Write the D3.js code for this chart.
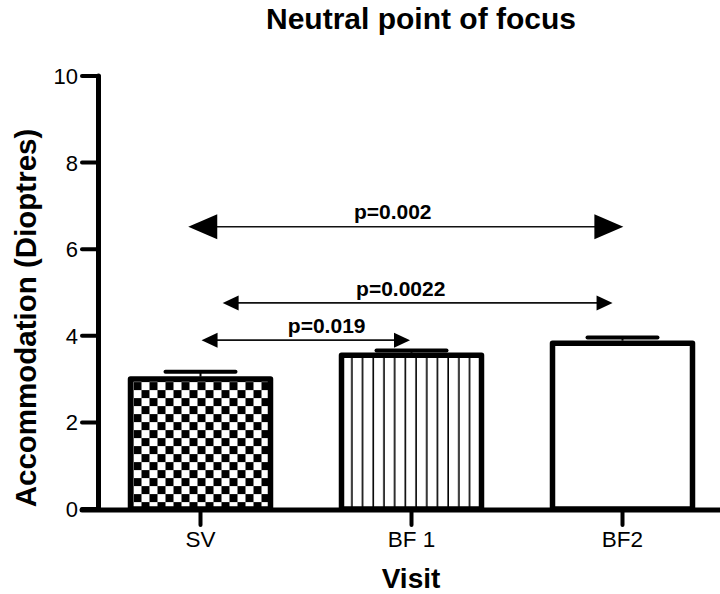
<!DOCTYPE html>
<html>
<head>
<meta charset="utf-8">
<script src="https://cdn.jsdelivr.net/npm/d3@7"></script>
<style>
  html, body { margin: 0; padding: 0; background: #fff; }
  svg { display: block; }
  text { font-family: "Liberation Sans", Arial, Helvetica, sans-serif; fill: #000; }
</style>
</head>
<body>
<svg id="chart" width="720" height="594"></svg>
<script>
// ---- data ----
const categories = ["SV", "BF 1", "BF2"];
const means = [3.0, 3.55, 3.83];
const errors = [0.17, 0.11, 0.13];
const patterns = ["checker", "stripes", "none"];
const yTicks = [0, 2, 4, 6, 8, 10];
// significance arrows: from / to as category index positions, y in dioptres
const sigLabels = ["p=0.002", "p=0.0022", "p=0.019"];
const sigFrom = [-0.058, 0.105, 0.005];
const sigTo = [2.004, 1.953, 0.993];
const sigY = [6.52, 4.76, 3.90];
const sigLabelX = [0.911, 0.949, 0.598];
const sigLabelY = [6.69, 4.92, 4.07];
const sigHeadBig = [true, false, false];

const title = "Neutral point of focus";
const xTitle = "Visit";
const yTitle = "Accommodation (Dioptres)";

// ---- layout ----
const svg = d3.select("#chart");
const y = d3.scaleLinear().domain([0, 10]).range([509, 76]);
const x = d3.scaleBand().domain(categories).range([95, 728])
  .paddingInner(0.3365).paddingOuter(0.3365 / 2);
const center = i => x(categories[i]) + x.bandwidth() / 2;
const xi = d3.scaleLinear().domain([0, 2]).range([center(0), center(2)]);

// patterns
const defs = svg.append("defs");
const chk = defs.append("pattern").attr("id", "checker")
  .attr("patternUnits", "userSpaceOnUse").attr("width", 16).attr("height", 16)
  .attr("x", x("SV") + 3).attr("y", y(means[0]) + 3);
chk.append("rect").attr("width", 16).attr("height", 16).attr("fill", "#fff");
chk.append("rect").attr("width", 8).attr("height", 8).attr("fill", "#000");
chk.append("rect").attr("x", 8).attr("y", 8).attr("width", 8).attr("height", 8).attr("fill", "#000");

const str = defs.append("pattern").attr("id", "stripes")
  .attr("patternUnits", "userSpaceOnUse").attr("width", 10.7).attr("height", 10)
  .attr("x", x("BF 1") + 0.5).attr("y", 0);
str.append("rect").attr("width", 10.7).attr("height", 10).attr("fill", "#fff");
str.append("rect").attr("x", 10.7 - 1.6).attr("width", 1.6).attr("height", 10).attr("fill", "#000");

// bars
const bars = svg.append("g");
categories.forEach((c, i) => {
  bars.append("rect")
    .attr("x", x(c))
    .attr("y", y(means[i]))
    .attr("width", x.bandwidth())
    .attr("height", y(0) - y(means[i]))
    .attr("fill", patterns[i] === "none" ? "#fff" : `url(#${patterns[i]})`)
    .attr("stroke", "#000")
    .attr("stroke-width", 5.5)
    .attr("stroke-linejoin", "round");
  // error bar
  const cx = center(i);
  bars.append("line")
    .attr("x1", cx).attr("x2", cx)
    .attr("y1", y(means[i]) - 2.5).attr("y2", y(means[i] + errors[i]))
    .attr("stroke", "#000").attr("stroke-width", 2);
  bars.append("line")
    .attr("x1", cx - 35).attr("x2", cx + 35)
    .attr("y1", y(means[i] + errors[i])).attr("y2", y(means[i] + errors[i]))
    .attr("stroke", "#000").attr("stroke-width", 4).attr("stroke-linecap", "round");
});

// y axis
const yAxis = svg.append("g");
yAxis.append("line")
  .attr("x1", 98.5).attr("x2", 98.5).attr("y1", y(10)).attr("y2", y(0))
  .attr("stroke", "#000").attr("stroke-width", 5).attr("stroke-linecap", "round");
yTicks.forEach(t => {
  yAxis.append("line")
    .attr("x1", 82).attr("x2", 98.5).attr("y1", y(t)).attr("y2", y(t))
    .attr("stroke", "#000").attr("stroke-width", 4).attr("stroke-linecap", "round");
  yAxis.append("text")
    .attr("x", 78).attr("y", y(t)).attr("dy", "0.36em")
    .attr("text-anchor", "end").attr("font-size", 22)
    .text(t);
});

// x axis
const xAxis = svg.append("g");
xAxis.append("line")
  .attr("x1", 82).attr("x2", 720).attr("y1", y(0) + 1).attr("y2", y(0) + 1)
  .attr("stroke", "#000").attr("stroke-width", 5).attr("stroke-linecap", "round");
categories.forEach((c, i) => {
  const cx = center(i);
  xAxis.append("line")
    .attr("x1", cx).attr("x2", cx).attr("y1", y(0) + 1).attr("y2", y(0) + 16)
    .attr("stroke", "#000").attr("stroke-width", 4).attr("stroke-linecap", "round");
  xAxis.append("text")
    .attr("x", cx).attr("y", 547)
    .attr("text-anchor", "middle").attr("font-size", 22.5)
    .text(c);
});

// significance arrows
const ann = svg.append("g");
sigLabels.forEach((lab, i) => {
  const x1 = xi(sigFrom[i]), x2 = xi(sigTo[i]), yy = y(sigY[i]);
  const L = sigHeadBig[i] ? 29 : 16;
  const H = sigHeadBig[i] ? 12.5 : 7.5;
  ann.append("line")
    .attr("x1", x1 + L - 1).attr("x2", x2 - L + 1).attr("y1", yy).attr("y2", yy)
    .attr("stroke", "#111").attr("stroke-width", 1.6);
  ann.append("path")
    .attr("d", `M${x1},${yy} L${x1 + L},${yy - H} L${x1 + L},${yy + H} Z`)
    .attr("fill", "#000");
  ann.append("path")
    .attr("d", `M${x2},${yy} L${x2 - L},${yy - H} L${x2 - L},${yy + H} Z`)
    .attr("fill", "#000");
  ann.append("text")
    .attr("x", xi(sigLabelX[i])).attr("y", y(sigLabelY[i]))
    .attr("text-anchor", "middle").attr("font-size", 21).attr("font-weight", "bold")
    .text(lab);
});

// titles
svg.append("text")
  .attr("x", 421).attr("y", 29)
  .attr("text-anchor", "middle").attr("font-size", 30).attr("font-weight", "bold")
  .text(title);
svg.append("text")
  .attr("x", 411).attr("y", 588)
  .attr("text-anchor", "middle").attr("font-size", 28).attr("font-weight", "bold")
  .text(xTitle);
svg.append("text")
  .attr("transform", "translate(36,318) rotate(-90)")
  .attr("text-anchor", "middle").attr("font-size", 29.5).attr("font-weight", "bold")
  .text(yTitle);
</script>
</body>
</html>
